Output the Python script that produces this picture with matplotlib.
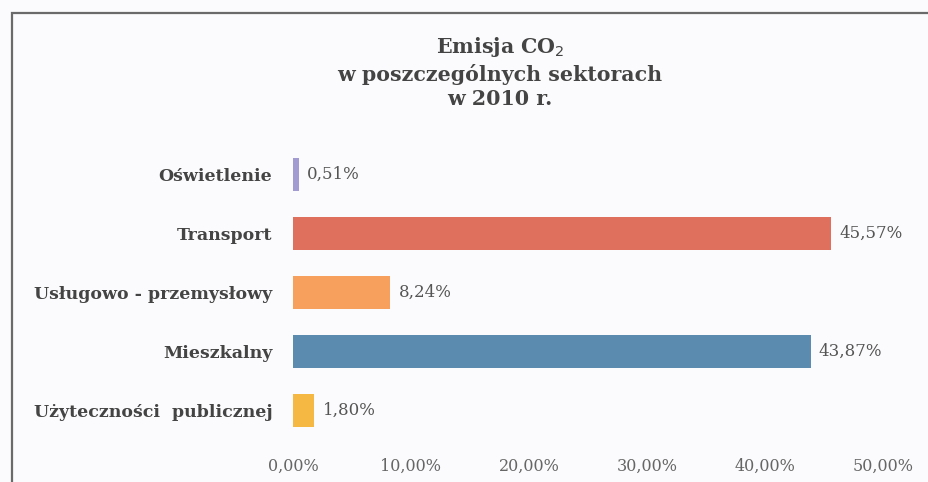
import numpy as np
import matplotlib.pyplot as plt
from matplotlib.patches import Rectangle

sectors = ['Oświetlenie', 'Transport', 'Usługowo - przemysłowy',
           'Mieszkalny', 'Użyteczności  publicznej']
shares = [0.51, 45.57, 8.24, 43.87, 1.80]
colors = ['#a29bd2', '#e0705e', '#f7a05e', '#5b8cb0', '#f4b843']
xticks = [0, 10, 20, 30, 40, 50]

plt.rcParams['font.family'] = ['DejaVu Serif']

fig = plt.figure(figsize=(9.29, 4.82), dpi=100)
fig.patch.set_facecolor('#fbfafc')

# frame of the chart area (runs off the right/bottom edge in the scan)
fig.add_artist(Rectangle((12/929, -0.1), 1.0, 1 - 13/482 + 0.1,
                         transform=fig.transFigure, fill=False,
                         edgecolor='#6a6a6a', linewidth=1.6))

ax = fig.add_axes([293/929, 1 - 440/482, 590/929, 295/482])
ax.set_facecolor('none')

y = np.arange(len(sectors))
ax.barh(y, shares, height=0.55, color=colors)
ax.set_ylim(len(sectors) - 0.5, -0.5)
ax.set_xlim(0, 50)

for yi, v in zip(y, shares):
    ax.text(v + 0.7, yi, ('%.2f%%' % v).replace('.', ','), va='center',
            ha='left', fontsize=12, color='#555555')

ax.set_yticks(y)
ax.set_yticklabels(sectors, fontsize=12.5, fontweight='bold', color='#444444')
ax.set_xticks(xticks)
ax.set_xticklabels([('%.2f%%' % t).replace('.', ',') for t in xticks],
                   fontsize=11.5, color='#666666')
ax.tick_params(axis='both', length=0)
ax.tick_params(axis='y', pad=15)
ax.tick_params(axis='x', pad=13)
for s in ax.spines.values():
    s.set_visible(False)

fig.text(500/929, 1 - 72/482, 'Emisja CO$_2$\nw poszczególnych sektorach\nw 2010 r.',
         ha='center', va='center', fontsize=14.8, fontweight='bold',
         color='#444444', linespacing=1.3)

plt.savefig('out.png', dpi=100, facecolor=fig.get_facecolor())
